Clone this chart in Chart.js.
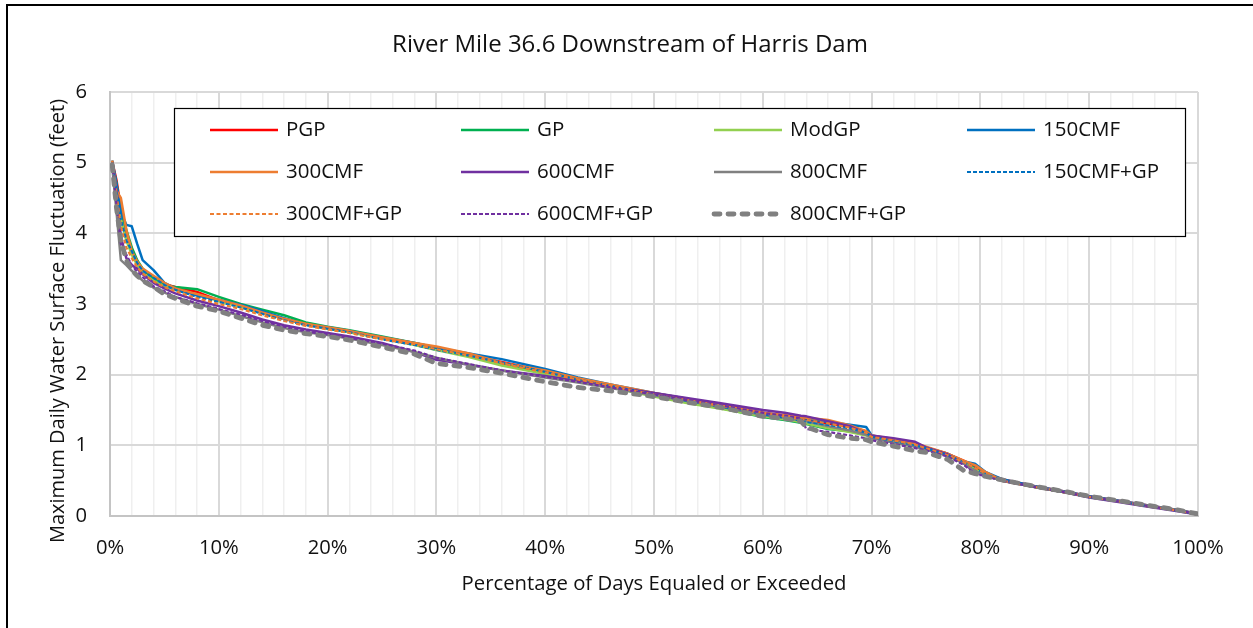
<!DOCTYPE html>
<html>
<head>
<meta charset="utf-8">
<script src="https://cdn.jsdelivr.net/npm/chart.js@4"></script>
<style>
html,body{margin:0;padding:0;background:#fff;}
canvas{display:block;}
</style>
</head>
<body>
<canvas id="c" width="1253" height="628"></canvas>
<script>
// ---------- data ----------
const chartTitle = "River Mile 36.6 Downstream of Harris Dam";
const xTitle = "Percentage of Days Equaled or Exceeded";
const yTitle = "Maximum Daily Water Surface Fluctuation (feet)";
const seriesNames = ["PGP","GP","ModGP","150CMF","300CMF","600CMF","800CMF","150CMF+GP","300CMF+GP","600CMF+GP","800CMF+GP"];
const yTicks = [0,1,2,3,4,5,6];
const xTickLabels = ["0%","10%","20%","30%","40%","50%","60%","70%","80%","90%","100%"];

const pct = [0.2,0.6,1,1.5,2,2.5,3,4,5,6,8,10,12,14,16,18,20,22,25,28,30,33,36,40,43,46,50,53,56,60,62,63.5,64,66,68,69.5,70,72,74,75,77,78.5,79.5,80.5,82,85,88,90,93,95,98,100];

const PGP = [5.02,4.75,4.35,4.0,3.78,3.6,3.48,3.36,3.28,3.24,3.17,3.05,2.97,2.88,2.79,2.72,2.66,2.61,2.52,2.43,2.37,2.28,2.18,2.05,1.95,1.85,1.73,1.65,1.57,1.46,1.41,1.37,1.36,1.31,1.26,1.2,1.13,1.08,1.01,0.97,0.88,0.78,0.7,0.6,0.52,0.42,0.34,0.28,0.21,0.16,0.09,0.03];
const GP = [5.0,4.7,4.3,4.05,3.8,3.62,3.5,3.36,3.26,3.24,3.21,3.1,3.0,2.92,2.84,2.74,2.68,2.63,2.54,2.45,2.38,2.27,2.16,2.03,1.93,1.83,1.7,1.61,1.53,1.4,1.36,1.32,1.3,1.23,1.2,1.15,1.12,1.06,1.0,0.96,0.86,0.76,0.67,0.58,0.51,0.41,0.33,0.27,0.2,0.15,0.08,0.02];
const ModGP = [4.98,4.6,4.2,3.9,3.7,3.55,3.44,3.33,3.25,3.2,3.14,3.04,2.96,2.87,2.79,2.71,2.65,2.6,2.51,2.42,2.35,2.25,2.13,2.01,1.91,1.82,1.69,1.6,1.52,1.41,1.37,1.33,1.31,1.24,1.19,1.14,1.11,1.05,0.99,0.95,0.86,0.75,0.66,0.57,0.5,0.41,0.33,0.27,0.2,0.15,0.08,0.02];
const CMF150 = [5.03,4.7,4.3,4.12,4.1,3.85,3.62,3.48,3.3,3.22,3.12,3.06,2.99,2.9,2.8,2.71,2.67,2.62,2.53,2.45,2.38,2.3,2.22,2.08,1.96,1.86,1.74,1.66,1.57,1.46,1.42,1.39,1.38,1.33,1.29,1.26,1.14,1.08,1.02,0.97,0.88,0.77,0.74,0.62,0.52,0.42,0.34,0.28,0.21,0.16,0.09,0.03];
const CMF300 = [5.03,4.6,4.5,4.05,3.75,3.6,3.5,3.4,3.3,3.22,3.14,3.06,2.98,2.88,2.79,2.72,2.67,2.62,2.53,2.45,2.4,2.3,2.17,2.06,1.95,1.86,1.74,1.66,1.58,1.46,1.43,1.4,1.39,1.36,1.28,1.2,1.14,1.09,1.03,0.98,0.88,0.78,0.72,0.62,0.5,0.41,0.33,0.27,0.2,0.15,0.08,0.02];
const CMF600 = [5.0,4.6,3.95,3.65,3.55,3.5,3.42,3.3,3.22,3.15,3.05,2.97,2.88,2.78,2.7,2.64,2.59,2.54,2.45,2.32,2.21,2.14,2.06,1.98,1.91,1.83,1.74,1.67,1.6,1.5,1.46,1.42,1.41,1.34,1.27,1.17,1.14,1.1,1.05,0.97,0.87,0.74,0.62,0.57,0.5,0.41,0.33,0.26,0.19,0.14,0.07,0.02];
const CMF800 = [4.95,4.3,3.62,3.55,3.47,3.4,3.33,3.23,3.16,3.1,3.0,2.92,2.83,2.74,2.66,2.6,2.56,2.51,2.42,2.32,2.24,2.14,2.06,1.96,1.89,1.81,1.71,1.63,1.55,1.43,1.39,1.35,1.34,1.27,1.21,1.15,1.1,1.04,0.98,0.94,0.85,0.74,0.64,0.57,0.5,0.41,0.33,0.27,0.2,0.15,0.08,0.03];
const CMF150GP = [5.0,4.6,4.2,3.9,3.75,3.58,3.47,3.37,3.27,3.2,3.1,3.03,2.95,2.86,2.77,2.7,2.65,2.6,2.5,2.42,2.35,2.27,2.17,2.04,1.93,1.84,1.72,1.63,1.55,1.44,1.39,1.35,1.33,1.29,1.24,1.18,1.12,1.06,1.0,0.96,0.86,0.76,0.68,0.59,0.51,0.41,0.33,0.27,0.2,0.15,0.08,0.02];
const CMF300GP = [5.0,4.55,4.1,3.8,3.65,3.52,3.43,3.32,3.24,3.18,3.08,3.0,2.93,2.84,2.76,2.69,2.64,2.59,2.5,2.43,2.36,2.27,2.16,2.03,1.93,1.84,1.72,1.64,1.56,1.45,1.41,1.37,1.36,1.31,1.25,1.18,1.12,1.07,1.01,0.96,0.86,0.76,0.68,0.6,0.5,0.41,0.33,0.27,0.2,0.15,0.08,0.02];
const CMF600GP = [4.98,4.4,3.85,3.7,3.55,3.45,3.38,3.25,3.18,3.1,3.01,2.93,2.85,2.76,2.68,2.61,2.57,2.52,2.44,2.34,2.24,2.15,2.06,1.97,1.9,1.82,1.72,1.64,1.57,1.46,1.42,1.38,1.23,1.19,1.14,1.1,1.07,1.02,0.96,0.93,0.84,0.72,0.6,0.56,0.5,0.41,0.33,0.27,0.2,0.15,0.08,0.03];
const CMF800GP = [4.97,4.35,3.9,3.62,3.48,3.4,3.33,3.24,3.14,3.08,2.97,2.9,2.8,2.7,2.63,2.58,2.54,2.49,2.39,2.29,2.16,2.1,2.02,1.9,1.82,1.77,1.69,1.61,1.54,1.41,1.38,1.34,1.26,1.15,1.1,1.08,1.05,0.99,0.92,0.9,0.8,0.64,0.6,0.56,0.51,0.42,0.34,0.28,0.21,0.16,0.09,0.03];

const seriesValues = [PGP,GP,ModGP,CMF150,CMF300,CMF600,CMF800,CMF150GP,CMF300GP,CMF600GP,CMF800GP];

// ---------- styles ----------
const styles = [
  {color:'#ff0000', width:2.5, dash:[]},
  {color:'#00b050', width:2.5, dash:[]},
  {color:'#92d050', width:2.5, dash:[]},
  {color:'#0070c0', width:2.5, dash:[]},
  {color:'#ed7d31', width:2.5, dash:[]},
  {color:'#7030a0', width:2.5, dash:[]},
  {color:'#808080', width:2.5, dash:[]},
  {color:'#0070c0', width:2.2, dash:[4,2]},
  {color:'#ed7d31', width:2.2, dash:[4,2.5]},
  {color:'#7030a0', width:2.2, dash:[4,2]},
  {color:'#808080', width:4.8, dash:[6,8], cap:'round'}
];

const FONT = "'Open Sans', 'Noto Sans', sans-serif";
const TXT = '#111111';

const datasets = seriesNames.map((name,i)=>({
  label: name,
  data: pct.map((x,j)=>({x:x, y:seriesValues[i][j]})),
  borderColor: styles[i].color,
  backgroundColor: styles[i].color,
  borderWidth: styles[i].width,
  borderDash: styles[i].dash,
  borderCapStyle: styles[i].cap || 'butt',
  borderJoinStyle: 'round',
  pointRadius: 0,
  fill: false,
  tension: 0,
  order: seriesNames.length - i
}));

const decor = {
  id:'decor',
  afterDraw(chart){
    const ctx = chart.ctx;
    ctx.save();
    // outer frame (cropped)
    ctx.strokeStyle = '#000';
    ctx.lineWidth = 2;
    ctx.setLineDash([]);
    ctx.beginPath();
    ctx.moveTo(7, 628); ctx.lineTo(7, 5); ctx.lineTo(1253, 5);
    ctx.stroke();
    // title
    ctx.fillStyle = TXT;
    ctx.textAlign = 'center';
    ctx.textBaseline = 'middle';
    ctx.font = "24px " + FONT;
    ctx.fillText(chartTitle, 630, 45);
    // axis titles
    ctx.font = "20.3px " + FONT;
    ctx.fillText(xTitle, 654, 584);
    ctx.save();
    ctx.translate(58, 321);
    ctx.rotate(-Math.PI/2);
    ctx.font = "20px " + FONT;
    ctx.fillText(yTitle, 0, 0);
    ctx.restore();
    // legend box
    const bx = 174, by = 108, bw = 1011, bh = 128;
    ctx.fillStyle = '#fff';
    ctx.fillRect(bx, by, bw, bh);
    ctx.strokeStyle = '#000';
    ctx.lineWidth = 1.2;
    ctx.strokeRect(bx+0.5, by+0.5, bw, bh);
    const colX = [210, 461, 714, 967];
    const rowY = [130, 172, 214];
    ctx.font = "20.5px " + FONT;
    ctx.textAlign = 'left';
    chart.data.datasets.forEach((ds,i)=>{
      const cx = colX[i%4], cy = rowY[Math.floor(i/4)];
      ctx.strokeStyle = ds.borderColor;
      ctx.lineWidth = ds.borderWidth;
      ctx.lineCap = ds.borderCapStyle;
      ctx.setLineDash(ds.borderDash);
      ctx.beginPath();
      ctx.moveTo(cx, cy); ctx.lineTo(cx+68, cy);
      ctx.stroke();
      ctx.setLineDash([]);
      ctx.fillStyle = TXT;
      ctx.fillText(ds.label, cx+76, cy);
    });
    ctx.restore();
  }
};

new Chart(document.getElementById('c'), {
  type:'line',
  data:{datasets: datasets},
  options:{
    responsive:false,
    animation:false,
    devicePixelRatio:1,
    layout:{padding:{top:92,right:55,bottom:0,left:0}},
    plugins:{legend:{display:false}, title:{display:false}, tooltip:{enabled:false}},
    scales:{
      x:{
        type:'linear', min:0, max:100,
        afterFit(s){ s.height = 112; },
        ticks:{
          stepSize:2, autoSkip:false, maxRotation:0, padding:20,
          color:TXT, font:{family:FONT, size:20.2},
          callback:(v)=> (v % 10 === 0) ? xTickLabels[v/10] : ''
        },
        grid:{
          drawTicks:false,
          color:(c)=> (c.tick && c.tick.value % 10 === 0) ? '#d9d9d9' : '#efefef',
          lineWidth:(c)=> (c.tick && c.tick.value % 10 === 0) ? 2 : 1.5
        },
        border:{color:'#c4c4c4', width:2}
      },
      y:{
        min:0, max:6,
        afterFit(s){ s.width = 110; },
        ticks:{
          stepSize:1, padding:23, color:TXT, font:{family:FONT, size:20.2},
          callback:(v)=> yTicks.includes(v) ? String(v) : ''
        },
        grid:{drawTicks:false, color:'#d9d9d9', lineWidth:2},
        border:{color:'#c4c4c4', width:2}
      }
    }
  },
  plugins:[decor]
});
</script>
</body>
</html>
